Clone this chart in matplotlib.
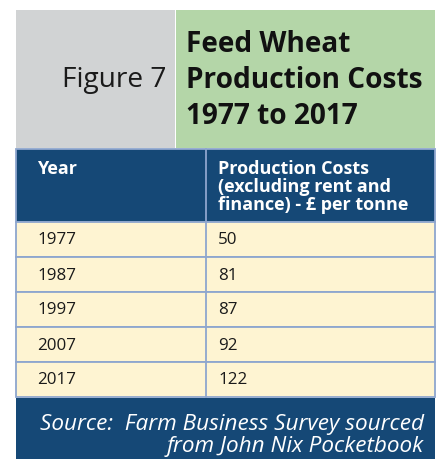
import matplotlib
matplotlib.use("Agg")
import matplotlib.pyplot as plt
from matplotlib.patches import Rectangle

years = ["1977", "1987", "1997", "2007", "2017"]
costs = ["50", "81", "87", "92", "122"]
col_headers = ["Year", "Production Costs\n(excluding rent and\nfinance) - £ per tonne"]
fig_label = "Figure 7"
title = "Feed Wheat\nProduction Costs\n1977 to 2017"
source = "Source:  Farm Business Survey sourced\nfrom John Nix Pocketbook"

W, H = 437, 459
DPI = 100
def px(p):
    return p * 72.0 / DPI

NAVY = "#154876"
GRAY = "#D1D3D4"
GREEN = "#B4D6A8"
CREAM = "#FEF4D2"
LINE = "#8EA6CE"
FONT = "Open Sans"

fig = plt.figure(figsize=(W / DPI, H / DPI), dpi=DPI)
ax = fig.add_axes([0, 0, 1, 1])
ax.set_xlim(0, W)
ax.set_ylim(H, 0)
ax.axis("off")

L, R, MID = 16, 434.5, 206
# title boxes
ax.add_patch(Rectangle((L, 10), 175 - L, 138, color=GRAY, lw=0))
ax.add_patch(Rectangle((176, 10), 435 - 176, 138, color=GREEN, lw=0))
ax.text(166, 80, fig_label, ha="right", va="center", fontsize=px(28), family=FONT, color="#1a1a1a")
ax.text(186, 80.5, title, ha="left", va="center", fontsize=px(28), family=FONT,
        fontweight="bold", color="#111111", linespacing=1.33)

# header
top_h, bot_h = 149, 222
ax.add_patch(Rectangle((L, top_h), R - L, bot_h - top_h, facecolor=NAVY, edgecolor=LINE, lw=1.3))
ax.plot([MID, MID], [top_h, bot_h], color=LINE, lw=1.3)
ax.text(37, 160, col_headers[0], ha="left", va="top", fontsize=px(18), family=FONT,
        fontweight="bold", color="white")
ax.text(218, 160, col_headers[1], ha="left", va="top", fontsize=px(18), family=FONT,
        fontweight="bold", color="white", linespacing=0.99)

# rows
row_h = 35
for i, (yr, c) in enumerate(zip(years, costs)):
    y0 = bot_h + i * row_h
    ax.add_patch(Rectangle((L, y0), R - L, row_h, facecolor=CREAM, edgecolor=LINE, lw=1.3))
    ax.plot([MID, MID], [y0, y0 + row_h], color=LINE, lw=1.3)
    ax.text(37, y0 + row_h / 2 + 1, yr, ha="left", va="center", fontsize=px(17), family=FONT, color="#1a1a1a")
    ax.text(218, y0 + row_h / 2 + 1, c, ha="left", va="center", fontsize=px(17), family=FONT, color="#1a1a1a")

# source box
sy = bot_h + len(years) * row_h + 1
ax.add_patch(Rectangle((L, sy), R - L, H - sy, color=NAVY, lw=0))
ax.text(424, 435.5, source, ha="right", va="center", fontsize=px(22.5), family=FONT,
        style="italic", color="white", linespacing=1.1)

fig.savefig("out.png", dpi=DPI)
